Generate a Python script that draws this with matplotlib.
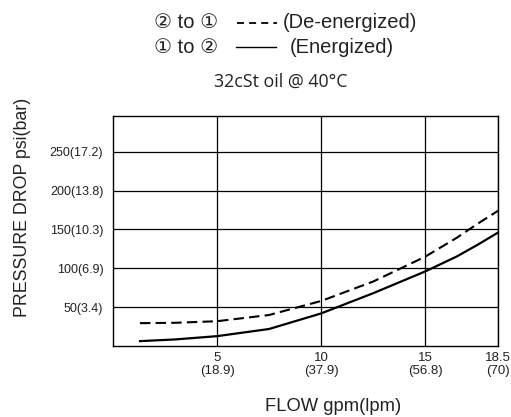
import matplotlib
matplotlib.use("Agg")
import matplotlib.pyplot as plt

plt.rcParams['font.family'] = ['Liberation Sans', 'DejaVu Sans']

# datos (gpm, psi)
flujo = [1.3, 3, 5, 7.5, 10, 12.5, 15, 16.5, 17.5, 18.5]
energizado = [6.4, 8.6, 12.8, 22, 42, 68, 96, 115, 130, 146]
desenergizado = [29.5, 30, 32, 40, 58, 83, 115, 139, 157, 174]

xticks = [5, 10, 15, 18.5]
xlabels = ["5\n(18.9)", "10\n(37.9)", "15\n(56.8)", "18.5\n(70)"]
yticks = [50, 100, 150, 200, 250]
ylabels = ["50(3.4)", "100(6.9)", "150(10.3)", "200(13.8)", "250(17.2)"]

fig = plt.figure(figsize=(5.11, 4.17), dpi=100)
ax = fig.add_axes([0.221, 0.170, 0.7536, 0.552])

ax.plot(flujo, desenergizado, color='black', lw=1.5, dashes=(5, 2.5))
ax.plot(flujo, energizado, color='black', lw=1.6)

ax.set_xlim(0, 18.5)
ax.set_ylim(0, 296)
ax.set_xticks(xticks)
ax.set_xticklabels(xlabels, fontsize=9.5, linespacing=1.15, color='#222222')
ax.set_yticks(yticks)
ax.set_yticklabels(ylabels, fontsize=9, color='#222222')
ax.tick_params(axis='x', length=0, pad=4)
ax.tick_params(axis='y', length=0, pad=7)
ax.grid(True, color='black', lw=0.9)
for s in ax.spines.values():
    s.set_linewidth(1.0)

fig.text(0.045, 0.502, "PRESSURE DROP psi(bar)", rotation=90, fontsize=12.8,
         ha='center', va='center', color='#222222')
fig.text(0.652, 0.024, "FLOW gpm(lpm)", fontsize=13.2, ha='center', va='center', color='#222222')

# leyenda manual
fig.text(0.301, 0.945, "\u2461 to \u2460", fontsize=14.5, ha='left', va='center', color='#222222')
fig.lines.append(plt.Line2D([0.464, 0.543], [0.945, 0.945], transform=fig.transFigure,
                            color='black', lw=1.3, dashes=(3.9, 2.8)))
fig.text(0.554, 0.945, "(De-energized)", fontsize=14.5, ha='left', va='center', color='#222222')
fig.text(0.301, 0.885, "\u2460 to \u2461", fontsize=14.5, ha='left', va='center', color='#222222')
fig.lines.append(plt.Line2D([0.462, 0.540], [0.888, 0.888], transform=fig.transFigure,
                            color='black', lw=1.0))
fig.text(0.5675, 0.885, "(Energized)", fontsize=14.5, ha='left', va='center', color='#222222')
fig.text(0.55, 0.803, "32cSt oil @ 40\u00b0C", fontsize=12.8, ha='center', va='center',
         family='Open Sans', color='#222222')

fig.savefig("out.png", dpi=100)
